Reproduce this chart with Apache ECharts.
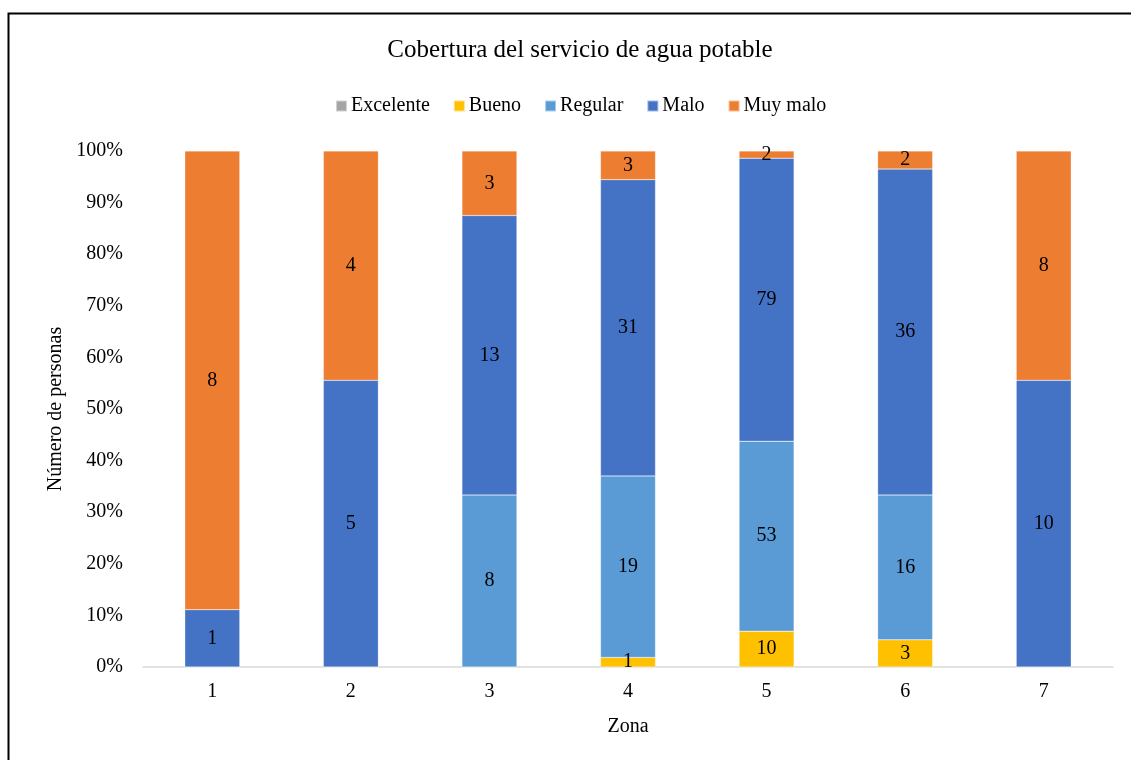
<!DOCTYPE html>
<html>
<head>
<meta charset="utf-8">
<script src="https://cdn.jsdelivr.net/npm/echarts@6/dist/echarts.min.js"></script>
<style>
  html, body { margin: 0; padding: 0; background: #fff; }
  #chart { width: 1131px; height: 760px; }
</style>
</head>
<body>
<div id="chart"></div>
<script>
// zonas
var zonas = ['1', '2', '3', '4', '5', '6', '7'];

// número de personas por zona y calificación
var excelente = [0, 0, 0, 0, 0, 0, 0];
var bueno = [0, 0, 0, 1, 10, 3, 0];
var regular = [0, 0, 8, 19, 53, 16, 0];
var malo = [1, 5, 13, 31, 79, 36, 10];
var muyMalo = [8, 4, 3, 3, 2, 2, 8];

var serif = '"Liberation Serif", "Times New Roman", serif';

function render_chart(divId) {
    var totals = zonas.map(function (z, i) {
        return excelente[i] + bueno[i] + regular[i] + malo[i] + muyMalo[i];
    });

    // porcentaje de cada valor, la etiqueta muestra el conteo
    function to_percent(values) {
        return values.map(function (v, i) {
            return { value: totals[i] ? v / totals[i] * 100 : 0, count: v };
        });
    }

    function make_series(name, values, color) {
        return {
            name: name,
            type: 'bar',
            stack: 'total',
            barWidth: 55,
            data: to_percent(values),
            itemStyle: { color: color, borderColor: 'rgba(255,255,255,0.5)', borderWidth: 0.5 },
            label: {
                show: true,
                position: 'inside',
                color: '#000',
                fontFamily: serif,
                fontSize: 20,
                formatter: function (p) {
                    return p.data.count ? String(p.data.count) : '';
                }
            }
        };
    }

    var dom = document.getElementById(divId);
    var myChart = echarts.init(dom, null, { renderer: 'canvas' });
    var option = {
        animation: false,
        backgroundColor: '#fff',
        title: {
            text: 'Cobertura del servicio de agua potable',
            left: 575,
            top: 33,
            textAlign: 'center',
            textStyle: { fontFamily: serif, fontSize: 25, fontWeight: 'normal', color: '#000' }
        },
        legend: {
            top: 91,
            left: 330,
            itemWidth: 11,
            itemHeight: 11,
            itemGap: 23,
            icon: 'rect',
            textStyle: { fontFamily: serif, fontSize: 20, color: '#000', padding: [0, 0, 0, -1] },
            data: ['Excelente', 'Bueno', 'Regular', 'Malo', 'Muy malo']
        },
        graphic: [{
            type: 'rect',
            shape: { x: 8.5, y: 13.5, width: 1140, height: 800 },
            style: { fill: 'none', stroke: '#000', lineWidth: 2 },
            silent: true
        }],
        grid: { left: 143, right: 18, top: 151, bottom: 93 },
        xAxis: {
            type: 'category',
            data: zonas,
            name: 'Zona',
            nameLocation: 'middle',
            nameGap: 50,
            nameTextStyle: { fontFamily: serif, fontSize: 20, color: '#000' },
            axisLine: { lineStyle: { color: '#d9d9d9', width: 1.5 } },
            axisTick: { show: false },
            axisLabel: { fontFamily: serif, fontSize: 20, color: '#000', margin: 15 }
        },
        yAxis: {
            type: 'value',
            min: 0,
            max: 100,
            interval: 10,
            name: 'Número de personas',
            nameLocation: 'middle',
            nameGap: 75,
            nameTextStyle: { fontFamily: serif, fontSize: 20, color: '#000' },
            axisLine: { show: false },
            axisTick: { show: false },
            splitLine: { show: false },
            axisLabel: { fontFamily: serif, fontSize: 20, color: '#000', margin: 20, formatter: '{value}%' }
        },
        series: [
            make_series('Excelente', excelente, '#a5a5a5'),
            make_series('Bueno', bueno, '#ffc000'),
            make_series('Regular', regular, '#5b9bd5'),
            make_series('Malo', malo, '#4472c4'),
            make_series('Muy malo', muyMalo, '#ed7d31')
        ]
    };
    myChart.setOption(option);
}

render_chart('chart');
</script>
</body>
</html>
